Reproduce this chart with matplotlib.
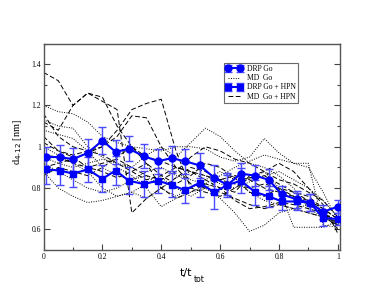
import matplotlib.pyplot as plt
from matplotlib.ticker import MultipleLocator

# DRP data (blue)
t_drp = [0.01, 0.055, 0.10, 0.15, 0.20, 0.245, 0.29, 0.34, 0.39, 0.435, 0.48,
         0.53, 0.58, 0.625, 0.67, 0.72, 0.765, 0.81, 0.86, 0.905, 0.95, 1.0]
drp_go = [0.95, 0.95, 0.94, 0.97, 1.03, 0.975, 0.99, 0.955, 0.93, 0.945, 0.93,
          0.91, 0.85, 0.815, 0.87, 0.86, 0.84, 0.77, 0.745, 0.73, 0.685, 0.71]
drp_go_err = [0.05, 0.06, 0.055, 0.07, 0.065, 0.06, 0.06, 0.06, 0.06, 0.06, 0.06,
              0.06, 0.06, 0.05, 0.05, 0.05, 0.05, 0.04, 0.04, 0.04, 0.035, 0.03]
drp_hpn = [0.89, 0.885, 0.87, 0.89, 0.845, 0.885, 0.835, 0.82, 0.835, 0.815, 0.79,
           0.825, 0.78, 0.815, 0.835, 0.78, 0.76, 0.735, 0.735, 0.73, 0.655, 0.65]
drp_hpn_err = [0.07, 0.07, 0.065, 0.06, 0.065, 0.07, 0.065, 0.065, 0.06, 0.06, 0.06,
               0.07, 0.08, 0.06, 0.06, 0.06, 0.05, 0.04, 0.04, 0.04, 0.04, 0.03]

# MD trajectories (black)
t_md = [0.0, 0.05, 0.10, 0.15, 0.20, 0.25, 0.30, 0.35, 0.40, 0.45, 0.50,
        0.55, 0.60, 0.65, 0.70, 0.75, 0.80, 0.85, 0.90, 0.95, 1.0]
md_go = [
    [1.20, 1.17, 1.16, 1.12, 1.05, 1.02, 1.00, 0.99, 0.98, 1.00, 1.00, 0.99, 0.95, 0.93, 0.95, 1.04, 0.97, 0.92, 0.90, 0.78, 0.64],
    [1.13, 1.10, 1.09, 1.00, 0.95, 0.90, 0.86, 0.80, 0.71, 0.75, 0.78, 0.80, 0.75, 0.68, 0.59, 0.62, 0.68, 0.70, 0.72, 0.68, 0.64],
    [0.88, 0.80, 0.76, 0.73, 0.74, 0.76, 0.78, 0.75, 0.80, 0.85, 0.88, 0.86, 0.82, 0.80, 0.83, 0.86, 0.88, 0.84, 0.80, 0.74, 0.66],
    [0.95, 0.92, 0.90, 0.92, 0.94, 0.92, 0.90, 0.96, 1.00, 0.95, 1.02, 1.09, 1.05, 0.98, 0.92, 0.90, 0.86, 0.80, 0.70, 0.66, 0.62],
    [1.08, 1.06, 1.04, 0.98, 0.90, 0.86, 0.84, 0.88, 0.90, 0.86, 0.84, 0.82, 0.86, 0.90, 0.93, 0.96, 0.94, 0.92, 0.92, 0.62, 0.61],
    [1.00, 0.96, 0.92, 0.88, 0.80, 0.76, 0.78, 0.82, 0.85, 0.80, 0.76, 0.80, 0.84, 0.86, 0.84, 0.88, 0.80, 0.61, 0.61, 0.61, 0.64],
    [0.92, 0.88, 0.84, 0.80, 0.78, 0.80, 0.84, 0.86, 0.80, 0.76, 0.80, 0.84, 0.88, 0.84, 0.78, 0.74, 0.72, 0.70, 0.68, 0.66, 0.63],
]
md_hpn = [
    [1.36, 1.32, 1.20, 1.26, 1.24, 1.10, 1.00, 0.95, 0.93, 0.90, 0.88, 0.86, 0.84, 0.86, 0.84, 0.80, 0.78, 0.76, 0.74, 0.68, 0.63],
    [1.12, 1.08, 1.20, 1.26, 1.22, 1.18, 0.68, 0.75, 0.80, 0.85, 0.90, 0.88, 0.84, 0.82, 0.80, 0.82, 0.80, 0.76, 0.72, 0.68, 0.62],
    [0.90, 0.92, 0.94, 0.97, 1.00, 1.08, 1.18, 1.21, 1.23, 0.98, 0.80, 0.78, 0.76, 0.80, 0.85, 0.86, 0.82, 0.78, 0.74, 0.70, 0.65],
    [1.02, 0.98, 0.96, 0.98, 1.00, 1.05, 1.15, 1.14, 1.00, 0.90, 0.82, 0.80, 0.78, 0.75, 0.72, 0.70, 0.72, 0.70, 0.68, 0.66, 0.62],
    [0.96, 0.95, 0.92, 0.90, 0.92, 0.94, 0.90, 0.86, 0.84, 0.88, 0.95, 1.00, 0.98, 0.94, 0.92, 0.88, 0.92, 0.88, 0.80, 0.72, 0.58],
    [1.05, 0.98, 0.95, 0.90, 0.88, 0.85, 0.88, 0.92, 0.80, 0.75, 0.78, 0.82, 0.80, 0.74, 0.70, 0.71, 0.73, 0.72, 0.70, 0.68, 0.60],
    [0.86, 0.90, 0.88, 0.86, 0.90, 0.95, 1.00, 0.92, 0.86, 0.82, 0.86, 0.92, 0.90, 0.85, 0.78, 0.76, 0.80, 0.78, 0.76, 0.70, 0.65],
    [1.16, 1.05, 1.00, 0.98, 0.96, 0.92, 0.88, 0.84, 0.86, 0.90, 0.88, 0.84, 0.80, 0.78, 0.86, 0.88, 0.84, 0.82, 0.78, 0.74, 0.66],
]

serif = 'Liberation Serif'

fig = plt.figure(figsize=(3.82, 2.95), dpi=100)
ax = fig.add_axes([0.114, 0.1525, 0.775, 0.70])

for i, y in enumerate(md_go):
    ax.plot(t_md, y, color='black', lw=0.7, ls=(0, (1, 1.5)),
            label='MD  Go' if i == 0 else None, zorder=2)
for i, y in enumerate(md_hpn):
    ax.plot(t_md, y, color='black', lw=0.7, ls=(0, (5, 2.5)),
            label='MD  Go + HPN' if i == 0 else None, zorder=2)

ax.errorbar(t_drp, drp_go, yerr=drp_go_err, color='#0000ff', ecolor='#4a4aff',
            marker='o', ms=5, lw=1.5, elinewidth=1, capsize=3, capthick=1,
            label='DRP Go', zorder=4)
ax.errorbar(t_drp, drp_hpn, yerr=drp_hpn_err, color='#0000ff', ecolor='#4a4aff',
            marker='s', ms=4.5, lw=1.5, elinewidth=1, capsize=3, capthick=1,
            label='DRP Go + HPN', zorder=4)

ax.set_xlim(0, 1.006)
ax.set_ylim(0.5, 1.5)
ax.xaxis.set_minor_locator(MultipleLocator(0.1))
ax.yaxis.set_minor_locator(MultipleLocator(0.1))
ax.set_xticks([0, 0.2, 0.4, 0.6, 0.8, 1.0])
ax.set_xticklabels(['0', '0.2', '0.4', '0.6', '0.8', '1'])
ax.set_yticks([0.6, 0.8, 1.0, 1.2, 1.4])
ax.set_yticklabels(['0.6', '0.8', '1', '1.2', '1.4'])
ax.tick_params(which='both', direction='in', right=True, top=False,
               labelsize=5.5, color='#444444', width=0.8, pad=2)
ax.tick_params(which='major', length=4)
ax.tick_params(which='minor', length=2)
for lab in ax.get_xticklabels() + ax.get_yticklabels():
    lab.set_family(serif)
for s in ax.spines.values():
    s.set_color('#555555')
    s.set_linewidth(1)

fig.text(0.047, 0.519, r'd$_{4\text{-}12}$ [nm]', rotation=90, ha='center',
         va='center', fontsize=7.5, family=serif)
fig.text(0.487, 0.075, 't/t', ha='center', va='center', fontsize=8)
fig.text(0.522, 0.051, 'tot', ha='center', va='center', fontsize=5.5)

handles, labels = ax.get_legend_handles_labels()
order = [labels.index(k) for k in ['DRP Go', 'MD  Go', 'DRP Go + HPN', 'MD  Go + HPN']]
leg = ax.legend([handles[i] for i in order], [labels[i] for i in order],
                loc='upper left', bbox_to_anchor=(0.595, 0.925),
                prop={'family': serif, 'size': 5.5}, frameon=True,
                fancybox=False, edgecolor='#444444', handlelength=2.2,
                handletextpad=0.6, borderpad=0.3, labelspacing=0.15,
                numpoints=2)
leg.get_frame().set_linewidth(0.8)

fig.savefig('out.png', dpi=100)
